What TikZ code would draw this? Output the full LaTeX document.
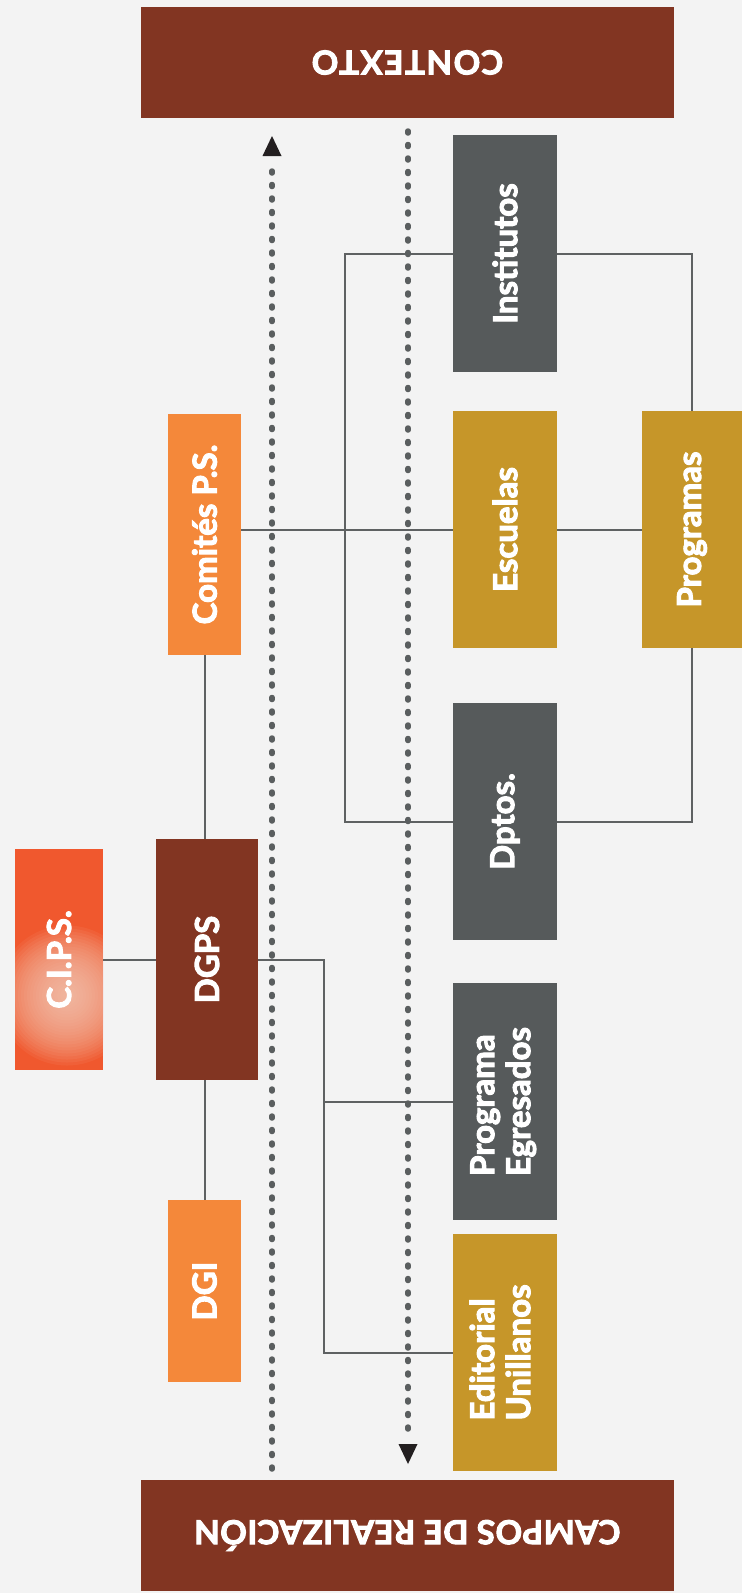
\documentclass[tikz,border=0pt]{standalone}
\usepackage{fontspec}
\setmainfont{Lato}[BoldFeatures={FakeBold=3}]
\usetikzlibrary{arrows.meta}
\definecolor{bgc}{HTML}{F3F3F3}
\definecolor{cbrown}{HTML}{823522}
\definecolor{cgray}{HTML}{565A5B}
\definecolor{cgold}{HTML}{C69629}
\definecolor{corange}{HTML}{F4883A}
\definecolor{cips}{HTML}{F0582E}
\definecolor{glowc}{HTML}{F9CDBB}
\definecolor{linec}{HTML}{5E6162}
\definecolor{dotc}{HTML}{5A5E5F}
\definecolor{arrowc}{HTML}{231F20}
\begin{document}
\begin{tikzpicture}[x=1pt,y=-1pt,
  box/.style={draw=none, inner sep=0pt, text=white, font=\fontsize{33}{36}\selectfont\bfseries},
  tallbox/.style={box, minimum width=104pt, minimum height=237pt},
  hdr/.style={box, fill=cbrown, minimum width=533pt, minimum height=111pt},
  conn/.style={draw=linec, line width=2pt},
  dotline/.style={draw=dotc, line width=5.5pt, line cap=round, dash pattern=on 2pt off 11.5pt},
  tip/.style={fill=arrowc}
]
\fill[bgc] (0,0) rectangle (742,1593);
\useasboundingbox (0,0) rectangle (742,1593);

% headers
\node[hdr] (ctx) at (407.5,62.5) {\rotatebox{180}{\addfontfeature{LetterSpace=5}CONTEXTO}};
\node[hdr] (campos) at (407.5,1535.5) {\rotatebox{180}{\addfontfeature{LetterSpace=1.5}CAMPOS DE REALIZACIÓN}};

% right column
\node[tallbox, fill=cgray] (inst) at (505,253.5) {\rotatebox{90}{Institutos}};
\node[tallbox, fill=cgold] (esc) at (505,529.5) {\rotatebox{90}{Escuelas}};
\node[box, fill=cgold, minimum width=100pt, minimum height=237pt] (prog) at (692,529.5) {\rotatebox{90}{Programas}};
\node[tallbox, fill=cgray] (dptos) at (505,821.5) {\rotatebox{90}{Dptos.}};
\node[tallbox, fill=cgray] (egr) at (505,1101.5) {\rotatebox{90}{\begin{tabular}{@{}l@{}}Programa\\Egresados\end{tabular}}};
\node[tallbox, fill=cgold] (edit) at (505,1352.5) {\rotatebox{90}{\begin{tabular}{@{}l@{}}Editorial\\Unillanos\end{tabular}}};

% left column
\node[box, fill=corange, minimum width=73pt, minimum height=241pt] (cps) at (204.5,534.5) {\rotatebox{90}{Comités P.S.}};
\node[box, fill=cbrown, minimum width=102pt, minimum height=241pt] (dgps) at (207,959.5) {\rotatebox{90}{DGPS}};
\node[box, fill=cips, minimum width=88pt, minimum height=221pt,
  path picture={
    \foreach \r in {70,67,...,4}
      \fill[glowc, opacity=0.075] ([shift={(8,36)}]path picture bounding box.center) circle (\r pt);
  }] (cipsn) at (59,959.5) {\rotatebox{90}{C.I.P.S.}};
\node[box, fill=corange, minimum width=73pt, minimum height=182pt] (dgi) at (204.5,1291) {\rotatebox{90}{DGI}};

% bus coordinates
\coordinate (lbus) at (345,0);
\coordinate (ebus) at (324,0);

% connectors
\draw[conn] (inst.west) -| (lbus |- dptos.west) -- (dptos.west);
\draw[conn] (inst.east) -| (prog.north);
\draw[conn] (dptos.east) -| (prog.south);
\draw[conn] (esc.east) -- (prog.west);
\draw[conn] (esc.west) -- (esc.west -| cps.east);
\draw[conn] (cps.south) -- (cps.south |- dgps.north);
\draw[conn] (dgi.north) -- (dgi.north |- dgps.south);
\draw[conn] (cipsn.east) -- (dgps.west);
\draw[conn] (dgps.east) -| (ebus |- edit.west) -- (edit.west);
\draw[conn] (egr.west) -- (egr.west -| ebus);

% dotted arrows
\coordinate (ltop) at (272,136);
\coordinate (ldotA) at (272,169);
\coordinate (ldotB) at (272,1469);
\coordinate (rtip) at (408,1464);
\coordinate (rdotA) at (408,131);
\coordinate (rdotB) at (408,1431);
\draw[dotline] (ldotB) -- (ldotA);
\draw[dotline] (rdotA) -- (rdotB);
\fill[tip] (ltop) -- ++(-9.5,20) -- ++(19,0) -- cycle;
\fill[tip] (rtip) -- ++(-9.5,-20) -- ++(19,0) -- cycle;
\end{tikzpicture}
\end{document}
